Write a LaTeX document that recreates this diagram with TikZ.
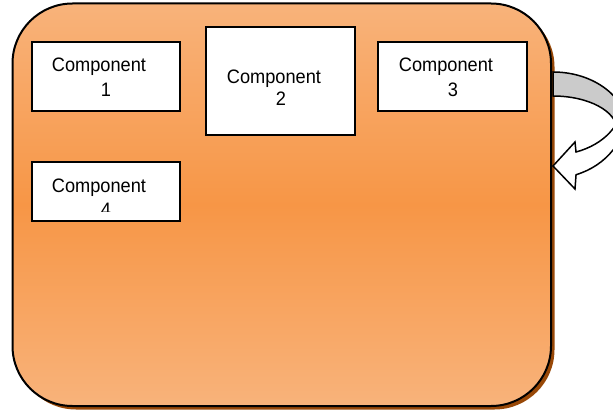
\documentclass[tikz,border=0pt]{standalone}
\usepackage{fontspec}
\setmainfont{Liberation Sans}
\definecolor{orangeLight}{HTML}{F9C49A}
\definecolor{orangeMid}{HTML}{F79646}
\definecolor{shadowBrown}{HTML}{984807}
\definecolor{backGrey}{HTML}{CBCBCB}
\pgfdeclareverticalshading{frameshade}{100bp}{%
  color(0bp)=(orangeLight); color(10bp)=(orangeLight);
  color(50bp)=(orangeMid);
  color(90bp)=(orangeLight); color(100bp)=(orangeLight)}
\newcommand{\complabel}[1]{\scalebox{1}[1.07]{#1}}
\begin{document}
\begin{tikzpicture}[x=1pt,y=-1pt,
  frame/.style={draw=black, line width=2pt, rounded corners=60pt,
    inner sep=0pt, outer sep=0pt},
  comp/.style={draw=black, line width=1.4pt, fill=white, inner sep=0pt, outer sep=0pt},
  lbl/.style={anchor=base, inner sep=0pt, font=\fontsize{18.2}{22}\selectfont},
  arrowline/.style={draw=black, line width=1.5pt, line join=miter}]
\useasboundingbox (0,0) rectangle (613,412);

% shadow and gradient body of the container
\fill[shadowBrown, rounded corners=60pt] (16,7) rectangle (554.5,409.5);
\shade[shading=frameshade, rounded corners=60pt] (12.5,3.5) rectangle (551,406);

% outer container outline
\node[frame, minimum width=538.5pt, minimum height=402.5pt] (outer) at (281.75,204.75) {};

% component boxes
\node[comp, minimum width=148pt, minimum height=69pt]  (b1) at (106,76.5) {};
\node[comp, minimum width=149pt, minimum height=108pt] (b2) at (280.5,81) {};
\node[comp, minimum width=149pt, minimum height=69pt]  (b3) at (452.5,76.5) {};
\node[comp, minimum width=148pt, minimum height=59pt]  (b4) at (106,191.5) {};

% labels
\node[lbl] (t1a) at (99,72)  {\complabel{Component}};
\node[lbl] (t1b) at (106,96) {\complabel{1}};
\node[lbl] (t2a) at (274,83)  {\complabel{Component}};
\node[lbl] (t2b) at (281,106) {\complabel{2}};
\node[lbl] (t3a) at (446,72)  {\complabel{Component}};
\node[lbl] (t3b) at (453,96)  {\complabel{3}};
\begin{scope}
  \clip (33,163) rectangle (179,211);
  \node[lbl] (t4a) at (99,192)  {\complabel{Component}};
  \node[lbl] (t4b) at (106,216) {\complabel{4}};
\end{scope}

% curved loop arrow on the right side
\begin{scope}
  \clip (0,0) rectangle (613,412);
  \draw[arrowline, fill=backGrey]
    (553,72) arc[start angle=-90, end angle=0, x radius=75, y radius=58]
    -- (617,130) arc[start angle=0, end angle=-90, x radius=64, y radius=34]
    -- cycle;
  \draw[arrowline, fill=white]
    (576,152) arc[start angle=70.7, end angle=0, x radius=69.6, y radius=53.2]
    -- (627.2,110) arc[start angle=0, end angle=71.9, x radius=74.2, y radius=68.06]
    -- (575,189) -- (553,166) -- (575,142) -- cycle;
\end{scope}
\end{tikzpicture}
\end{document}
